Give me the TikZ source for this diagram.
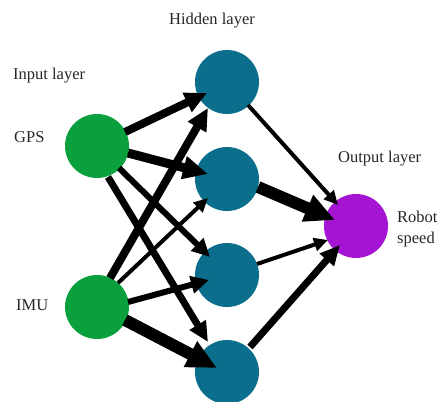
\documentclass[tikz,border=0pt]{standalone}
\usepackage{fontspec}
\setmainfont{Liberation Serif}
\usetikzlibrary{arrows.meta,calc}

\definecolor{ingreen}{HTML}{0AA03E}
\definecolor{hidteal}{HTML}{0B6E8C}
\definecolor{outpurple}{HTML}{A414D2}

\begin{document}
\begin{tikzpicture}[x=1pt,y=-1pt,
  neuron/.style={circle,minimum size=64pt,inner sep=0pt,draw=none},
  lbl/.style={font=\fontsize{16.5}{20}\selectfont,inner sep=0pt,text=black!85},
  wa/.style={line width=4pt,-{Triangle[length=14pt,width=13pt]}},
  wb/.style={line width=6pt,-{Triangle[length=18pt,width=17pt]}},
  wc/.style={line width=7pt,-{Triangle[length=20pt,width=18pt]}},
  wd/.style={line width=8pt,-{Triangle[length=22pt,width=20pt]}},
  we/.style={line width=9pt,-{Triangle[length=25pt,width=22pt]}},
  wf/.style={line width=12pt,-{Triangle[length=30pt,width=27pt]}}]

\useasboundingbox (0,0) rectangle (441,401);
\clip (0,0) rectangle (441,401);

% neurons
\node[neuron,fill=ingreen]    (gps) at (97,146) {};
\node[neuron,fill=ingreen]    (imu) at (97,307) {};
\node[neuron,fill=hidteal]    (h1)  at (227,82)  {};
\node[neuron,fill=hidteal]    (h2)  at (227,179) {};
\node[neuron,fill=hidteal]    (h3)  at (227,275) {};
\node[neuron,fill=hidteal]    (h4)  at (227,372) {};
\node[neuron,fill=outpurple]  (out) at (356,226) {};

% labels
\node[lbl,anchor=base]      (lhid)  at (212,25)  {Hidden layer};
\node[lbl,anchor=base west] (linp)  at (13,80)   {Input layer};
\node[lbl,anchor=base west] (lgps)  at (14,142)  {GPS};
\node[lbl,anchor=base west] (limu)  at (16,310)  {IMU};
\node[lbl,anchor=base west] (lout)  at (338,162) {Output layer};
\node[lbl,anchor=base west] (lrob)  at (397,222) {Robot};
\node[lbl,anchor=base west] (lspd)  at (397,243) {speed};

% input -> hidden
\draw[wd] ($(gps)+(28,-14)$) -- ($(h1)+(-20,11)$);
\draw[we] ($(gps)+(31,7)$)   -- ($(h2)+(-19,-5)$);
\draw[wb] ($(gps)+(22,22)$)  -- ($(h3)+(-17,-18)$);
\draw[wc] ($(gps)+(11,31)$)  -- ($(h4)+(-19,-30)$);
\draw[wd] ($(imu)+(13,-29)$) -- ($(h1)+(-19,26)$);
\draw[wa] ($(imu)+(21,-24)$) -- ($(h2)+(-19,19)$);
\draw[wb] ($(imu)+(31,-5)$)  -- ($(h3)+(-18,5)$);
\draw[wf] ($(imu)+(28,13)$)  -- ($(h4)+(-10,-4)$);

% hidden -> output
\draw[wa] ($(h1)+(21,23)$)  -- ($(out)+(-18,-21)$);
\draw[wf] ($(h2)+(31,8)$)   -- ($(out)+(-21,-6)$);
\draw[wa] ($(h3)+(30,-11)$) -- ($(out)+(-28,14)$);
\draw[wc] ($(h4)+(23,-25)$) -- ($(out)+(-16,19)$);

\end{tikzpicture}
\end{document}
